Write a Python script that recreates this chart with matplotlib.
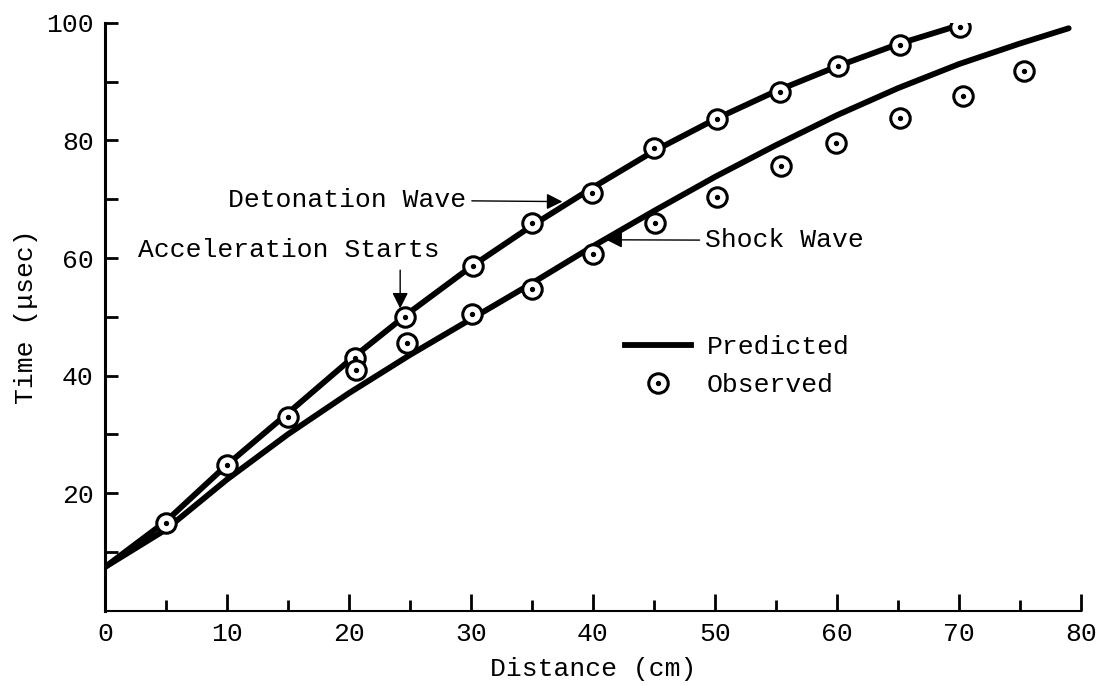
import matplotlib.pyplot as plt
from matplotlib.lines import Line2D
from matplotlib.ticker import MultipleLocator

plt.rcParams['font.family'] = ['Liberation Mono', 'DejaVu Sans Mono']

# predicted curves (read every 5 cm)
det_x = [0, 5, 10, 15, 20, 25, 30, 35, 40, 45, 50, 55, 60, 65, 70]
det_y = [7.4, 15.2, 24.8, 33.6, 42.5, 50.8, 58.5, 65.5, 72.0, 78.2, 83.6, 88.4, 92.6, 96.4, 99.6]
shock_x = [0, 5, 10, 15, 20, 25, 30, 35, 40, 45, 50, 55, 60, 65, 70, 75, 79]
shock_y = [7.4, 13.8, 22.3, 30.0, 37.0, 43.5, 49.6, 55.7, 62.0, 68.0, 73.8, 79.2, 84.3, 88.9, 93.0, 96.5, 99.1]

# observed points
det_obs_x = [5, 10, 15, 20.5, 24.6, 30.2, 35, 39.9, 45, 50.2, 55.3, 60.1, 65.2, 70.1]
det_obs_y = [14.9, 24.8, 32.9, 43.0, 49.9, 58.7, 66.0, 71.1, 78.7, 83.7, 88.3, 92.6, 96.3, 99.3]
shock_obs_x = [20.6, 24.8, 30.1, 35.0, 40.0, 45.1, 50.2, 55.4, 59.9, 65.2, 70.3, 75.3]
shock_obs_y = [40.9, 45.5, 50.5, 54.7, 60.7, 66.0, 70.4, 75.7, 79.6, 83.8, 87.6, 91.9]

fig = plt.figure(figsize=(10.99, 6.86), dpi=100)
ax = fig.add_axes([0.0955, 0.110, 0.888, 0.8565])

ax.plot(det_x, det_y, color='k', lw=4.2, solid_capstyle='round', solid_joinstyle='round', zorder=2)
ax.plot(shock_x, shock_y, color='k', lw=4.2, solid_capstyle='round', solid_joinstyle='round', zorder=2)

obs_x = det_obs_x + shock_obs_x
obs_y = det_obs_y + shock_obs_y
ax.plot(obs_x, obs_y, 'o', ms=14, mfc='white', mec='k', mew=2.2, ls='none', zorder=3)
ax.plot(obs_x, obs_y, 'o', ms=2.8, color='k', ls='none', zorder=4)

arrow = dict(arrowstyle='-|>', color='k', lw=1, mutation_scale=24, shrinkA=2, shrinkB=0)
ax.annotate('Detonation Wave', xy=(37.5, 69.6), xytext=(10.1, 69.9),
            ha='left', va='center', fontsize=19, arrowprops=arrow)
ax.annotate('Shock Wave', xy=(41.1, 63.1), xytext=(49.2, 63.0),
            ha='left', va='center', fontsize=19, arrowprops=arrow)
ax.text(15.1, 61.4, 'Acceleration Starts', ha='center', va='center', fontsize=19)
ax.annotate('', xy=(24.2, 51.4), xytext=(24.2, 58.4), arrowprops=arrow)

# legend
h_line = Line2D([], [], color='k', lw=4.2)
h_circ = Line2D([], [], marker='o', ms=14, mfc='white', mec='k', mew=2.2, ls='none')
h_dot = Line2D([], [], marker='o', ms=2.8, color='k', ls='none')
ax.legend([h_line, (h_circ, h_dot)], ['Predicted', 'Observed'],
          loc='center left', bbox_to_anchor=(0.533, 0.416), frameon=False,
          fontsize=19, handlelength=2.5, handletextpad=0.6, labelspacing=0.55,
          borderpad=0, borderaxespad=0)

ax.set_xlim(0, 80)
ax.set_ylim(0, 100)
ax.xaxis.set_major_locator(MultipleLocator(10))
ax.xaxis.set_minor_locator(MultipleLocator(5))
ax.set_yticks([20, 40, 60, 80, 100])
ax.set_yticks([10, 30, 50, 70, 90], minor=True)

ax.spines['top'].set_visible(False)
ax.spines['right'].set_visible(False)
ax.spines['left'].set_linewidth(2.2)
ax.spines['bottom'].set_linewidth(1.5)

ax.tick_params(axis='both', which='both', direction='in', labelsize=19)
ax.tick_params(axis='x', which='major', length=12, width=2, pad=8)
ax.tick_params(axis='x', which='minor', length=8, width=2)
ax.tick_params(axis='y', which='both', length=9.5, width=2, pad=8)

ax.set_xlabel('Distance (cm)', fontsize=19, labelpad=8)
ax.set_ylabel('Time (μsec)', fontsize=19, labelpad=6)

plt.savefig('out.png', dpi=100)
